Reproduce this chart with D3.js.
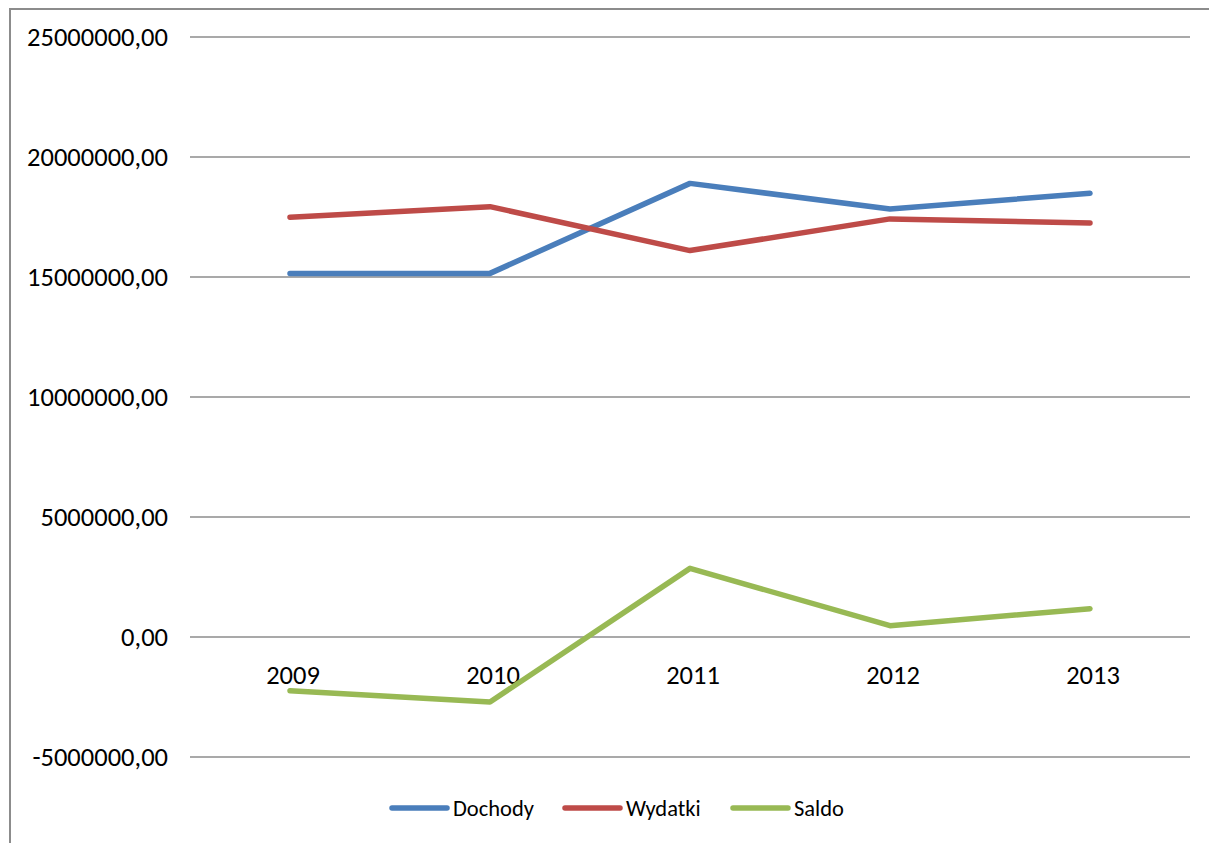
<!DOCTYPE html>
<html lang="pl">
<head>
<meta charset="utf-8">
<title>Dochody, wydatki, saldo</title>
<script src="https://cdn.jsdelivr.net/npm/d3@7"></script>
<style>
  body { margin: 0; background: #fff; }
  svg { display: block; font-family: Carlito, Lato, "Open Sans", sans-serif; }
  .grid line { stroke: #8c8c8c; stroke-width: 1.5; }
  .grid .domain { display: none; }
</style>
</head>
<body>
<script>
// data
var years = ["2009", "2010", "2011", "2012", "2013"];
var dochody = [15130000, 15130000, 18880000, 17810000, 18470000];
var wydatki = [17470000, 17910000, 16080000, 17400000, 17230000];
var saldo = [-2260000, -2730000, 2840000, 450000, 1160000];
var seriesNames = ["Dochody", "Wydatki", "Saldo"];
var yTicks = [-5000000, 0, 5000000, 10000000, 15000000, 20000000, 25000000];

var colors = ["#4a7ebb", "#be4b48", "#98b954"];
var series = [dochody, wydatki, saldo].map(function(vals, i) {
  return { name: seriesNames[i], color: colors[i], values: vals };
});

var w = 1209, h = 843;
var padLeft = 190, padRight = 1190, padTop = 36.5, padBottom = 756.5;

var svg = d3.select("body").append("svg")
  .attr("width", w)
  .attr("height", h);

// chart frame (only left & top edges visible in the crop)
svg.append("path")
  .attr("d", "M10," + h + "V9H" + w)
  .attr("fill", "none")
  .attr("stroke", "#8c8c8c")
  .attr("stroke-width", 2);

var x = d3.scaleBand().domain(years).range([padLeft, padRight]);
var y = d3.scaleLinear().domain([-5000000, 25000000]).range([padBottom, padTop]);

// gridlines
svg.append("g")
  .attr("class", "grid")
  .attr("transform", "translate(" + padLeft + ",0)")
  .call(d3.axisRight(y).tickValues(yTicks).tickSize(padRight - padLeft).tickFormat(""));

// y tick labels
svg.append("g")
  .selectAll("text")
  .data(yTicks)
  .enter()
  .append("text")
  .attr("x", padLeft - 22)
  .attr("y", function(d) { return y(d); })
  .attr("dy", "0.35em")
  .attr("text-anchor", "end")
  .attr("font-size", "26.5px")
  .attr("fill", "#000")
  .text(function(d) { return d.toFixed(2).replace(".", ","); });

// category labels below the zero line
svg.append("g")
  .selectAll("text")
  .data(years)
  .enter()
  .append("text")
  .attr("x", function(d) { return x(d) + x.bandwidth() / 2 + 3; })
  .attr("y", y(0) + 38)
  .attr("dy", "0.35em")
  .attr("text-anchor", "middle")
  .attr("font-size", "26.5px")
  .attr("fill", "#000")
  .text(function(d) { return d; });

var line = d3.line()
  .x(function(d, i) { return x(years[i]) + x.bandwidth() / 2; })
  .y(function(d) { return y(d); });

svg.append("g")
  .selectAll("path")
  .data(series)
  .enter()
  .append("path")
  .attr("d", function(s) { return line(s.values); })
  .attr("fill", "none")
  .attr("stroke", function(s) { return s.color; })
  .attr("stroke-width", 5.5)
  .attr("stroke-linecap", "round")
  .attr("stroke-linejoin", "round");

// legend
var legendX = [392, 565, 733];
var lg = svg.append("g")
  .selectAll("g")
  .data(series)
  .enter()
  .append("g")
  .attr("transform", function(s, i) { return "translate(" + legendX[i] + ",808)"; });

lg.append("line")
  .attr("x1", 0).attr("x2", 55)
  .attr("stroke", function(s) { return s.color; })
  .attr("stroke-width", 5.5)
  .attr("stroke-linecap", "round");

lg.append("text")
  .attr("x", 61)
  .attr("dy", "0.35em")
  .attr("font-size", "22.5px")
  .attr("fill", "#000")
  .text(function(s) { return s.name; });
</script>
</body>
</html>
